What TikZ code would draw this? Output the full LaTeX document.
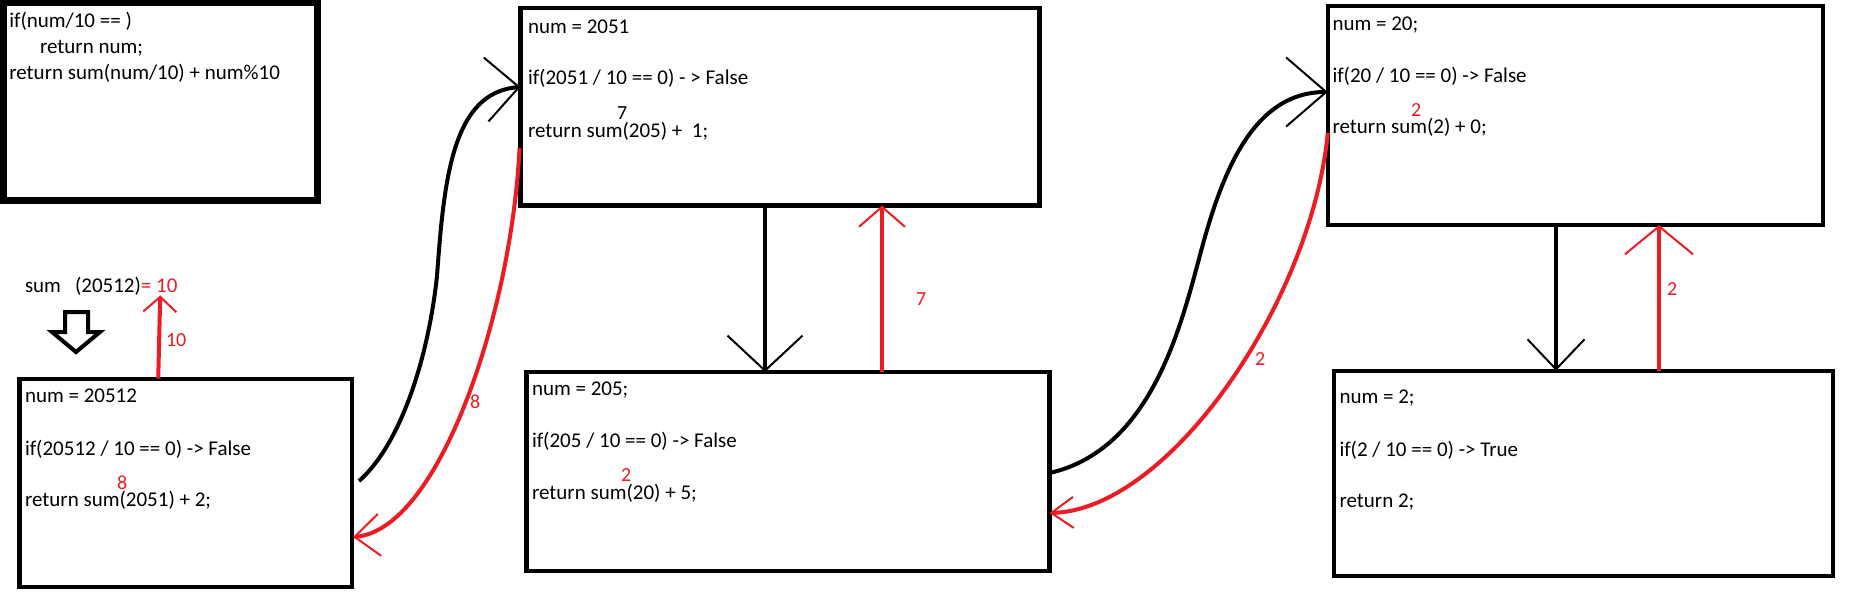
\documentclass[tikz,border=0pt]{standalone}
\usepackage{fontspec}
\setmainfont{Carlito}
\usetikzlibrary{arrows.meta,calc}
\definecolor{pred}{RGB}{237,28,36}
\begin{document}
\begin{tikzpicture}[x=1pt,y=-1pt,
  box/.style={draw, rectangle, line width=4.3pt, inner sep=0pt, outer sep=0pt},
  txt/.style={anchor=base west, inner sep=0pt, outer sep=0pt, font=\fontsize{21}{25}\selectfont},
  lbl/.style={anchor=base west, inner sep=0pt, outer sep=0pt, text=pred, font=\fontsize{20}{24}\selectfont},
  blk/.style={line width=4pt, draw=black},
  rd/.style={line width=4pt, draw=pred},
  tipA/.style args={#1/#2}{-{Straight Barb[length=#1pt,width=#2pt,line width=2pt]}}
]
\useasboundingbox[fill=white] (0,0) rectangle (1853,615);

% boxes
\node[box, line width=6.5pt, minimum width=314.2pt, minimum height=197.3pt] (A) at (160.4,101.7) {};
\node[box, minimum width=332.5pt, minimum height=208pt] (B) at (185.75,482.7) {};
\node[box, minimum width=519pt, minimum height=197.2pt] (C) at (780,106.9) {};
\node[box, minimum width=523.2pt, minimum height=199pt] (D) at (788,471.5) {};
\node[box, minimum width=495pt, minimum height=219pt] (E) at (1575.25,115.5) {};
\node[box, minimum width=499pt, minimum height=205.5pt] (F) at (1583.5,473.5) {};

% box A text
\node[txt] (a1) at (9.3,27.7) {if(num/10 == )};
\node[txt] (a2) at (40,54) {return num;};
\node[txt] (a3) at (9.3,80) {return sum(num/10) + num\%10};

% call label and hollow arrow
\node[txt] (sum) at (25,292.3) {sum\hspace{14pt}(20512)};
\node[txt, text=pred] (eq) at (sum.base east) {= 10};
\draw[line width=4pt, line join=miter] (65,312) -- (88,312) -- (88,332) -- (100,332) -- (76,352) -- (52,332) -- (65,332) -- cycle;

% box B text
\node[txt] (b1) at (25,402.7) {num = 20512};
\node[txt] (b2) at (25,455) {if(20512 / 10 == 0) -> False};
\node[txt] (b3) at (25,506.7) {return sum(2051) + 2;};
\node[lbl] (b8) at (117,489.3) {8};

% box C text
\node[txt] (c1) at (528,34) {num = 2051};
\node[txt] (c2) at (528,85) {if(2051 / 10 == 0) - > False};
\node[txt] (c3) at (528,138) {return sum(205) + \ 1;};
\node[lbl, text=black] (c7) at (617,119.5) {7};

% box D text
\node[txt] (d1) at (532,395) {num = 205;};
\node[txt] (d2) at (532,447) {if(205 / 10 == 0) -> False};
\node[txt] (d3) at (532,499) {return sum(20) + 5;};
\node[lbl] (d2r) at (621,481.5) {2};

% box E text
\node[txt] (e1) at (1332.5,31) {num = 20;};
\node[txt] (e2) at (1332.5,83) {if(20 / 10 == 0) -> False};
\node[txt] (e3) at (1332.5,134) {return sum(2) + 0;};
\node[lbl] (e2r) at (1411,116.5) {2};

% box F text
\node[txt] (f1) at (1339.5,403) {num = 2;};
\node[txt] (f2) at (1339.5,456) {if(2 / 10 == 0) -> True};
\node[txt] (f3) at (1339.5,507) {return 2;};

% connectors
\draw[rd, tipA=15/33] ([shift={(-27.5,0)}]B.north) -- ([shift={(1,3)}]eq.south);
\node[lbl] (l10) at (166,346.7) {10};

\draw[blk, tipA=33/64] ([shift={(7,-1.7)}]B.east) .. controls (400,445) and (428,360) .. (437,276)
   .. controls (444,180) and (452,92) .. ([shift={(0,-19.9)}]C.west);
\draw[rd, tipA=25/42] ([shift={(-1,41.1)}]C.west) .. controls (512,310) and (440,530) .. ([shift={(1,54.3)}]B.east);
\node[lbl] (l8) at (470,408.8) {8};

\draw[blk, tipA=35/75] ([shift={(-15,0)}]C.south) -- ([shift={(-23,0)}]D.north);
\draw[rd, tipA=20/46] ([shift={(94,0)}]D.north) -- ([shift={(102,0)}]C.south);
\node[lbl] (l7) at (916,305) {7};

\draw[blk, tipA=40/69] ([shift={(0,1.5)}]D.east) .. controls (1150,450) and (1180,330) .. (1200,255)
   .. controls (1220,180) and (1250,92) .. ([shift={(0,-23.5)}]E.west);
\draw[rd, tipA=22/31] ([shift={(0,17.5)}]E.west) .. controls (1312,300) and (1170,510) .. ([shift={(0,41.5)}]D.east);
\node[lbl] (l2a) at (1255,365) {2};

\draw[blk, tipA=30/57] ([shift={(-19.25,0)}]E.south) -- ([shift={(-27.5,0)}]F.north);
\draw[rd, tipA=28/68] ([shift={(75.5,0)}]F.north) -- ([shift={(83.75,0)}]E.south);
\node[lbl] (l2b) at (1667,295) {2};
\end{tikzpicture}
\end{document}
